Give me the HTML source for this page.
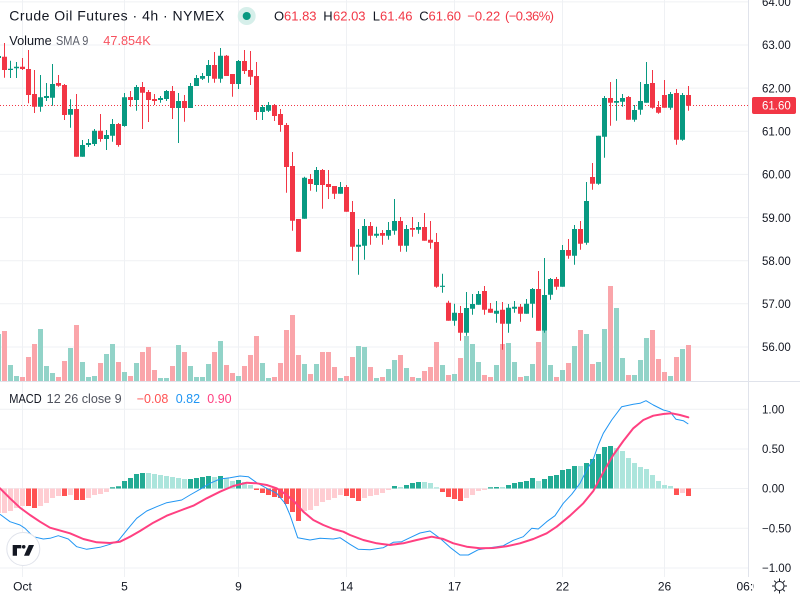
<!DOCTYPE html>
<html><head><meta charset="utf-8"><style>
html,body{margin:0;padding:0;background:#fff;width:800px;height:600px;overflow:hidden}
svg{display:block}
text{font-family:"Liberation Sans",Arial,sans-serif}
</style></head><body>
<svg width="800" height="600" viewBox="0 0 800 600" xmlns="http://www.w3.org/2000/svg">
<rect width="800" height="600" fill="#fff"/>
<!-- grid -->
<g stroke="#eff1f4" stroke-width="1" fill="none">
<path d="M0 1.9H748M0 45H748M0 88.1H748M0 131.3H748M0 174.4H748M0 217.6H748M0 260.7H748M0 303.8H748M0 347H748"/>
<path d="M0 409.3H748M0 449H748M0 488.5H748M0 528.3H748M0 568H748"/>
<path d="M22.5 0V577M124.5 0V577M238.5 0V577M346.5 0V577M454.5 0V577M562.5 0V577M664.5 0V577"/>
</g>
<!-- separators -->
<path d="M0 381.5H800M748.5 0V577" stroke="#e0e3eb" stroke-width="1"/>
<!-- volume -->
<path fill="#92d3c8" d="M-4 334h5V381h-5zM8 365h5V381h-5zM14 376h5V381h-5zM38 329h5V381h-5zM44 366h5V381h-5zM50 373h5V381h-5zM68 348h5V381h-5zM80 362h5V381h-5zM86 377h5V381h-5zM92 376h5V381h-5zM104 354h5V381h-5zM110 344h5V381h-5zM122 372h5V381h-5zM134 363h5V381h-5zM158 378h5V381h-5zM164 378h5V381h-5zM176 345h5V381h-5zM188 366h5V381h-5zM194 377h5V381h-5zM200 377h5V381h-5zM206 364h5V381h-5zM218 341h5V381h-5zM236 376h5V381h-5zM260 363h5V381h-5zM266 378h5V381h-5zM302 364h5V381h-5zM314 364h5V381h-5zM338 378h5V381h-5zM356 346h5V381h-5zM362 347h5V381h-5zM374 378h5V381h-5zM386 369h5V381h-5zM392 360h5V381h-5zM404 368h5V381h-5zM416 378h5V381h-5zM440 365h5V381h-5zM452 374h5V381h-5zM464 336h5V381h-5zM470 344h5V381h-5zM476 362h5V381h-5zM494 365h5V381h-5zM506 343h5V381h-5zM512 362h5V381h-5zM524 376h5V381h-5zM530 364h5V381h-5zM542 331h5V381h-5zM548 365h5V381h-5zM560 370h5V381h-5zM572 346h5V381h-5zM584 334h5V381h-5zM596 362h5V381h-5zM602 329h5V381h-5zM614 308h5V381h-5zM620 358h5V381h-5zM632 375h5V381h-5zM638 360h5V381h-5zM644 338h5V381h-5zM668 376h5V381h-5zM680 349h5V381h-5z"/>
<path fill="#faa5aa" d="M2 331h5V381h-5zM20 377h5V381h-5zM26 357h5V381h-5zM32 344h5V381h-5zM56 377h5V381h-5zM62 361h5V381h-5zM74 325h5V381h-5zM98 363h5V381h-5zM116 362h5V381h-5zM128 376h5V381h-5zM140 352h5V381h-5zM146 347h5V381h-5zM152 370h5V381h-5zM170 366h5V381h-5zM182 352h5V381h-5zM212 352h5V381h-5zM224 365h5V381h-5zM230 373h5V381h-5zM242 366h5V381h-5zM248 355h5V381h-5zM254 336h5V381h-5zM272 377h5V381h-5zM278 363h5V381h-5zM284 330h5V381h-5zM290 315h5V381h-5zM296 355h5V381h-5zM308 374h5V381h-5zM320 352h5V381h-5zM326 352h5V381h-5zM332 367h5V381h-5zM344 376h5V381h-5zM350 357h5V381h-5zM368 367h5V381h-5zM380 377h5V381h-5zM398 355h5V381h-5zM410 377h5V381h-5zM422 371h5V381h-5zM428 367h5V381h-5zM434 342h5V381h-5zM446 375h5V381h-5zM458 358h5V381h-5zM482 375h5V381h-5zM488 377h5V381h-5zM500 344h5V381h-5zM518 377h5V381h-5zM536 342h5V381h-5zM554 377h5V381h-5zM566 363h5V381h-5zM578 330h5V381h-5zM590 364h5V381h-5zM608 286h5V381h-5zM626 375h5V381h-5zM650 330h5V381h-5zM656 359h5V381h-5zM662 372h5V381h-5zM674 357h5V381h-5zM686 345h5V381h-5z"/>
<!-- price line -->
<path d="M0 105.5H748" stroke="#f23645" stroke-width="1" stroke-dasharray="1 2"/>
<!-- green candles -->
<path stroke="#089981" stroke-width="1" fill="none" d="M-1.5 50V62M10.5 60.7V78M16.5 62V78M40.5 75V111.7M46.5 83V101M52.5 64V105.7M70.5 99.3V127.7M82.5 140V156.7M88.5 139V147M94.5 129V146M106.5 130V150M112.5 119V141.7M124.5 93V126.7M136.5 85V110.7M160.5 96V102.7M166.5 90V101M178.5 93V143M190.5 83V108M196.5 75V86M202.5 73V80M208.5 60V82.7M220.5 48V82.7M238.5 60V89M262.5 105V120M268.5 102V112M304.5 176.7V218.7M316.5 167V191.7M340.5 182V193.7M358.5 229V274.7M364.5 219V259.7M376.5 226.7V237.7M388.5 222V239.7M394.5 199V234.7M406.5 225V251.7M418.5 222V233.7M442.5 273.7V292.7M454.5 303.7V325.7M466.5 292V335.7M472.5 294V314.7M478.5 291V304.7M496.5 301V322.7M508.5 304V332.7M514.5 301V312.7M526.5 299V313.7M532.5 288V317.7M544.5 258V332.7M550.5 278V299.7M562.5 245V286.7M574.5 225V264.7M586.5 182V244.7M598.5 135.7V184.7M604.5 96V157.7M616.5 79V120.7M622.5 94V106.7M634.5 105V121.7M640.5 82V114.7M646.5 62V102.7M670.5 92V109.7M682.5 93V140.7"/>
<path fill="#089981" d="M-4 56h5v2h-5zM8 68.7h5v1.3h-5zM14 66.7h5v1.6h-5zM38 97.3h5v9.4h-5zM44 96h5v2h-5zM50 84h5v13.7h-5zM68 109h5v5.7h-5zM80 145h5v11.7h-5zM86 143h5v2h-5zM92 130.7h5v13.3h-5zM104 135h5v4h-5zM110 124h5v11.7h-5zM122 97.3h5v28.7h-5zM134 87h5v13h-5zM158 98h5v2h-5zM164 91h5v8h-5zM176 101h5v7h-5zM188 86h5v22h-5zM194 78h5v8h-5zM200 76h5v2.7h-5zM206 65h5v11h-5zM218 55.7h5v23h-5zM236 61h5v23h-5zM260 107h5v5h-5zM266 105h5v5.7h-5zM302 177.7h5v41h-5zM314 170h5v15h-5zM338 187h5v6.7h-5zM356 244.7h5v2h-5zM362 226h5v19.7h-5zM374 233.7h5v2h-5zM386 230h5v5.7h-5zM392 221h5v9.7h-5zM404 229h5v16.7h-5zM416 227h5v2.7h-5zM440 285.7h5v1.2h-5zM452 312.7h5v8h-5zM464 308h5v24.7h-5zM470 304h5v4.7h-5zM476 294h5v10.7h-5zM494 310.7h5v3h-5zM506 307.7h5v16h-5zM512 306.7h5v2h-5zM524 303.7h5v10h-5zM530 289h5v14.7h-5zM542 295h5v35.7h-5zM548 279h5v15.7h-5zM560 250h5v36.7h-5zM572 229h5v26.7h-5zM584 201h5v41.7h-5zM596 135.7h5v48h-5zM602 98h5v38.7h-5zM614 101h5v1.7h-5zM620 98h5v3.7h-5zM632 110h5v9.7h-5zM638 101h5v8.7h-5zM644 84h5v18.7h-5zM668 94h5v13.7h-5zM680 95h5v44.7h-5z"/>
<!-- red candles -->
<path stroke="#f23645" stroke-width="1" fill="none" d="M4.5 43V77.7M22.5 58V70M28.5 50V103.3M34.5 70V113M58.5 75V86.7M64.5 84V120M76.5 94V156.7M100.5 114V141.7M118.5 123V146.7M130.5 91V106.7M142.5 82V129M148.5 90V122M154.5 94V105M172.5 86V119M184.5 95V121.7M214.5 52V82.7M226.5 55V76M232.5 74V96.7M244.5 50V74M250.5 51V85M256.5 62V120M274.5 104V121M280.5 109V131.7M286.5 123V192.7M292.5 152V230.7M298.5 219V251.7M310.5 174V190.7M322.5 169V208.7M328.5 170V199M334.5 186V199M346.5 185V211.7M352.5 201V260.7M370.5 222V244.7M382.5 230V244.7M400.5 217V251.7M412.5 217V236.7M424.5 213V240.7M430.5 221V248.7M436.5 233V287.7M448.5 300.7V320.7M460.5 306V340.7M484.5 286V314.7M490.5 303V312.7M502.5 302V349.7M520.5 304V321.7M538.5 271V330.7M556.5 277V289.7M568.5 239V258.7M580.5 221V249.7M592.5 163V189.7M610.5 82V125.7M628.5 96V119.7M652.5 70V108.7M658.5 101V113.7M664.5 80V107.7M676.5 89V144.7M688.5 86V110.7"/>
<path fill="#f23645" d="M2 56.7h5v13.3h-5zM20 66.7h5v2.3h-5zM26 69h5v26h-5zM32 94h5v12.7h-5zM56 83h5v2.7h-5zM62 85h5v30h-5zM74 109h5v47.7h-5zM98 130.7h5v8.3h-5zM116 124h5v21h-5zM128 97h5v3h-5zM140 87h5v5.7h-5zM146 92h5v8h-5zM152 99h5v2h-5zM170 91h5v17h-5zM182 101h5v7h-5zM212 65h5v13.7h-5zM224 55.7h5v20.3h-5zM230 74h5v10h-5zM242 61h5v10h-5zM248 70h5v6.7h-5zM254 76h5v36h-5zM272 105h5v11h-5zM278 114h5v11h-5zM284 125h5v42h-5zM290 166h5v54.7h-5zM296 219h5v32.7h-5zM308 179h5v5h-5zM320 170h5v15h-5zM326 184h5v3h-5zM332 186h5v7.7h-5zM344 187h5v24.7h-5zM350 212h5v34.7h-5zM368 226h5v9.7h-5zM380 233h5v2.7h-5zM398 221h5v24.7h-5zM410 228h5v1.7h-5zM422 227h5v13.7h-5zM428 239.7h5v3h-5zM434 242h5v44.7h-5zM446 302.7h5v18h-5zM458 313h5v19.7h-5zM482 291h5v18.7h-5zM488 308.7h5v4h-5zM500 309.7h5v14h-5zM518 306.7h5v7h-5zM536 289h5v41.7h-5zM554 279h5v7.7h-5zM566 250h5v5.7h-5zM578 229h5v14.7h-5zM590 177h5v6.7h-5zM608 98h5v4.7h-5zM626 97h5v22.7h-5zM650 83h5v24.7h-5zM656 107h5v5.7h-5zM662 95h5v12.7h-5zM674 93h5v46.7h-5zM686 95h5v10.7h-5z"/>
<!-- MACD histogram -->
<path fill="#ffcdd2" d="M-4 488.5h5V513h-5zM2 488.5h5V513h-5zM8 488.5h5V511h-5zM14 488.5h5V508h-5zM20 488.5h5V506h-5zM38 488.5h5V506h-5zM44 488.5h5V503h-5zM50 488.5h5V498h-5zM56 488.5h5V496h-5zM68 488.5h5V495h-5zM86 488.5h5V498h-5zM92 488.5h5V495h-5zM98 488.5h5V494h-5zM104 488.5h5V492h-5zM302 488.5h5V511h-5zM308 488.5h5V510h-5zM314 488.5h5V506h-5zM320 488.5h5V502h-5zM326 488.5h5V500h-5zM332 488.5h5V498h-5zM338 488.5h5V495h-5zM362 488.5h5V498h-5zM368 488.5h5V496h-5zM374 488.5h5V495h-5zM380 488.5h5V493h-5zM386 488.5h5V490h-5zM464 488.5h5V498h-5zM470 488.5h5V495h-5zM476 488.5h5V491h-5zM482 488.5h5V490h-5zM680 488.5h5V493h-5z"/>
<path fill="#ff5252" d="M26 488.5h5V506h-5zM32 488.5h5V508h-5zM62 488.5h5V496h-5zM74 488.5h5V500h-5zM80 488.5h5V500h-5zM254 488.5h5V490h-5zM260 488.5h5V493h-5zM266 488.5h5V495h-5zM272 488.5h5V497h-5zM278 488.5h5V498h-5zM284 488.5h5V504h-5zM290 488.5h5V512h-5zM296 488.5h5V521h-5zM344 488.5h5V496h-5zM350 488.5h5V498h-5zM356 488.5h5V501h-5zM440 488.5h5V492h-5zM446 488.5h5V497h-5zM452 488.5h5V499h-5zM458 488.5h5V501h-5zM674 488.5h5V495h-5zM686 488.5h5V496h-5z"/>
<path fill="#22ab94" d="M110 488.5h5V487.3h-5zM116 488.5h5V486.3h-5zM122 488.5h5V481h-5zM128 488.5h5V478h-5zM134 488.5h5V474h-5zM140 488.5h5V473h-5zM188 488.5h5V479h-5zM194 488.5h5V478h-5zM200 488.5h5V477h-5zM206 488.5h5V476h-5zM218 488.5h5V476h-5zM236 488.5h5V480h-5zM392 488.5h5V486h-5zM404 488.5h5V485h-5zM410 488.5h5V483h-5zM416 488.5h5V482h-5zM488 488.5h5V487.3h-5zM494 488.5h5V487h-5zM506 488.5h5V485h-5zM512 488.5h5V483h-5zM518 488.5h5V482h-5zM524 488.5h5V481h-5zM530 488.5h5V478h-5zM542 488.5h5V479h-5zM548 488.5h5V476h-5zM554 488.5h5V475h-5zM560 488.5h5V470h-5zM566 488.5h5V469h-5zM572 488.5h5V466h-5zM584 488.5h5V463h-5zM590 488.5h5V459h-5zM596 488.5h5V454h-5zM602 488.5h5V447h-5zM608 488.5h5V446h-5z"/>
<path fill="#ace5dc" d="M146 488.5h5V473h-5zM152 488.5h5V474h-5zM158 488.5h5V475h-5zM164 488.5h5V476h-5zM170 488.5h5V477h-5zM176 488.5h5V478h-5zM182 488.5h5V479h-5zM212 488.5h5V477h-5zM224 488.5h5V478h-5zM230 488.5h5V481h-5zM242 488.5h5V482h-5zM248 488.5h5V485h-5zM398 488.5h5V487h-5zM422 488.5h5V482h-5zM428 488.5h5V483h-5zM434 488.5h5V487.3h-5zM500 488.5h5V487h-5zM536 488.5h5V481h-5zM578 488.5h5V466h-5zM614 488.5h5V448h-5zM620 488.5h5V451h-5zM626 488.5h5V458h-5zM632 488.5h5V463h-5zM638 488.5h5V467h-5zM644 488.5h5V469h-5zM650 488.5h5V475h-5zM656 488.5h5V481h-5zM662 488.5h5V485h-5zM668 488.5h5V486h-5z"/>
<!-- MACD line -->
<polyline fill="none" stroke="#2196f3" stroke-width="1" stroke-linejoin="round" points="0,514.3 10,521.7 20,525 25,528.3 33.3,536.7 43.3,539 50,538.3 58.3,535.7 68.3,539 76.7,546.7 86.7,549.3 100,547.3 110,544.3 118.3,540.7 128.3,528.3 136.7,518.3 146.7,511 156.7,506.7 166.7,502.7 181.7,500 190,495 200,489.3 210,483.3 220,479 230,477.7 240,476 248.3,476.7 256.7,482.7 266.7,488.3 276.7,493.3 285,503.3 290,515 297.7,537.7 310,540 320,538.3 333.3,539 340,537.7 350,544.3 358.3,549.3 370,549.7 383.3,547.7 393.3,542.3 401.7,541.7 410,537.7 420,533 430,531 440,538.3 450,547.3 460,555 468.3,555 478.3,549.7 490,547.7 503.3,545.7 513.3,540.3 523.3,536.7 531.7,528.3 538.3,529 546.7,521.7 555,515.7 563.3,503.3 571.7,494.3 580,483.3 586.7,470 593.3,459 598.3,445 603.3,433.3 611.7,420 621.7,406.7 633.3,404.3 640,403.3 646,400.7 653.3,405 663.3,410 670,411.7 676,419.3 683.3,420.7 688.3,424"/>
<!-- signal line -->
<polyline fill="none" stroke="#ff4081" stroke-width="2" stroke-linejoin="round" stroke-linecap="round" points="0,488.3 10,498.3 20,507.7 30,515 40,521.7 50,527.7 70,533.3 83.3,539 96.7,542.3 110,543 120,541.7 130,536.7 140,531 153.3,522.7 166.7,515.7 181.7,510 193.3,505.7 206.7,498.3 220,491.7 233.3,486 246.7,482.7 256.7,483.3 266.7,485 276.7,488.3 286.7,495 295,502.3 303.3,511.7 313.3,520 323.3,525 333.3,529 343.3,531.7 350,535 363.3,540 376.7,543.3 390,545 403.3,543.3 416.7,540 431.7,536.7 443.3,539 453.3,543.3 466.7,546.7 480,548.3 493.3,548 506.7,546.3 520,543.3 533.3,539 546.7,533.3 556.7,526.7 570,515.7 583.3,503.3 593.3,491 603.3,472.3 613.3,455 623.3,441 633.3,428.3 643.3,420 653.3,415.7 663.3,414 671.7,413.3 680,415 688.3,417.3"/>
<!-- legends -->
<text x="9.3" y="20.5" font-size="14" fill="#131722" textLength="215" lengthAdjust="spacing">Crude Oil Futures · 4h · NYMEX</text>
<circle cx="246.7" cy="16" r="9" fill="#d6efea"/>
<circle cx="246.7" cy="16" r="4" fill="#089981"/>
<g font-size="13">
<text x="274" y="20.5" fill="#131722">O</text><text x="284" y="20.5" fill="#f23645">61.83</text>
<text x="323.3" y="20.5" fill="#131722">H</text><text x="333" y="20.5" fill="#f23645">62.03</text>
<text x="372.7" y="20.5" fill="#131722">L</text><text x="380" y="20.5" fill="#f23645">61.46</text>
<text x="419.3" y="20.5" fill="#131722">C</text><text x="428.5" y="20.5" fill="#f23645">61.60</text>
<text x="467.3" y="20.5" fill="#f23645">−0.22</text>
<text x="505" y="20.5" fill="#f23645" textLength="49" lengthAdjust="spacing">(−0.36%)</text>
</g>
<g font-size="12.5">
<text x="9.3" y="45" fill="#131722" textLength="42.4" lengthAdjust="spacingAndGlyphs">Volume</text>
<text x="56" y="45" fill="#5d606b" textLength="32.3" lengthAdjust="spacingAndGlyphs">SMA 9</text>
<text x="103.3" y="45" fill="#f7525f" textLength="47.4" lengthAdjust="spacingAndGlyphs">47.854K</text>
<text x="9.3" y="403" fill="#131722" textLength="32.4" lengthAdjust="spacingAndGlyphs">MACD</text>
<text x="46.7" y="403" fill="#50535e" textLength="75" lengthAdjust="spacingAndGlyphs">12 26 close 9</text>
<text x="136.7" y="403" fill="#ff5252">−0.08</text>
<text x="175.7" y="403" fill="#2196f3">0.82</text>
<text x="207.3" y="403" fill="#ff4081">0.90</text>
</g>
<!-- price axis -->
<g font-size="11.5" fill="#131722">
<text x="762" y="6">64.00</text>
<text x="762" y="49.2">63.00</text>
<text x="762" y="92.3">62.00</text>
<text x="762" y="135.5">61.00</text>
<text x="762" y="178.6">60.00</text>
<text x="762" y="221.8">59.00</text>
<text x="762" y="264.9">58.00</text>
<text x="762" y="308">57.00</text>
<text x="762" y="351.2">56.00</text>
<text x="762" y="413.5">1.00</text>
<text x="762" y="453.2">0.50</text>
<text x="762" y="492.7">0.00</text>
<text x="762" y="532.5">−0.50</text>
<text x="762" y="572">−1.00</text>
</g>
<rect x="752" y="97" width="44" height="17" rx="2" fill="#f23645"/>
<text x="762" y="109.6" font-size="11.5" fill="#fff">61.60</text>
<!-- time axis -->
<g font-size="12" fill="#131722" text-anchor="middle">
<text x="22.5" y="590.5">Oct</text>
<text x="124.5" y="590.5">5</text>
<text x="238.5" y="590.5">9</text>
<text x="346.5" y="590.5">14</text>
<text x="454.5" y="590.5">17</text>
<text x="562.5" y="590.5">22</text>
<text x="664.5" y="590.5">26</text>
</g>
<svg x="700" y="570" width="54" height="30"><text x="36.5" y="20.5" font-size="12" fill="#131722">06:00</text></svg>
<!-- gear/sun icon -->
<g stroke="#131722" stroke-width="1" fill="none">
<circle cx="779.5" cy="586" r="4.5"/>
<path d="M779.5 578.5v2.5M779.5 591v2.5M772 586h2.5M784.5 586h2.5M774.2 580.7l1.7 1.7M783.1 589.6l1.7 1.7M774.2 591.3l1.7-1.7M783.1 582.4l1.7-1.7"/>
</g>
<!-- TV logo -->
<circle cx="23.3" cy="549" r="16.5" fill="#fff" stroke="#e0e3eb" stroke-width="1"/>
<path fill="#131722" d="M12.7 545h8.6v3.4h-4.3v7.3h-4.3v-7.3z"/>
<circle cx="23.7" cy="546.8" r="1.8" fill="#131722"/>
<path fill="#131722" d="M28.8 545h5.2l-4.9 10.7h-5.1z"/>
</svg>
</body></html>
